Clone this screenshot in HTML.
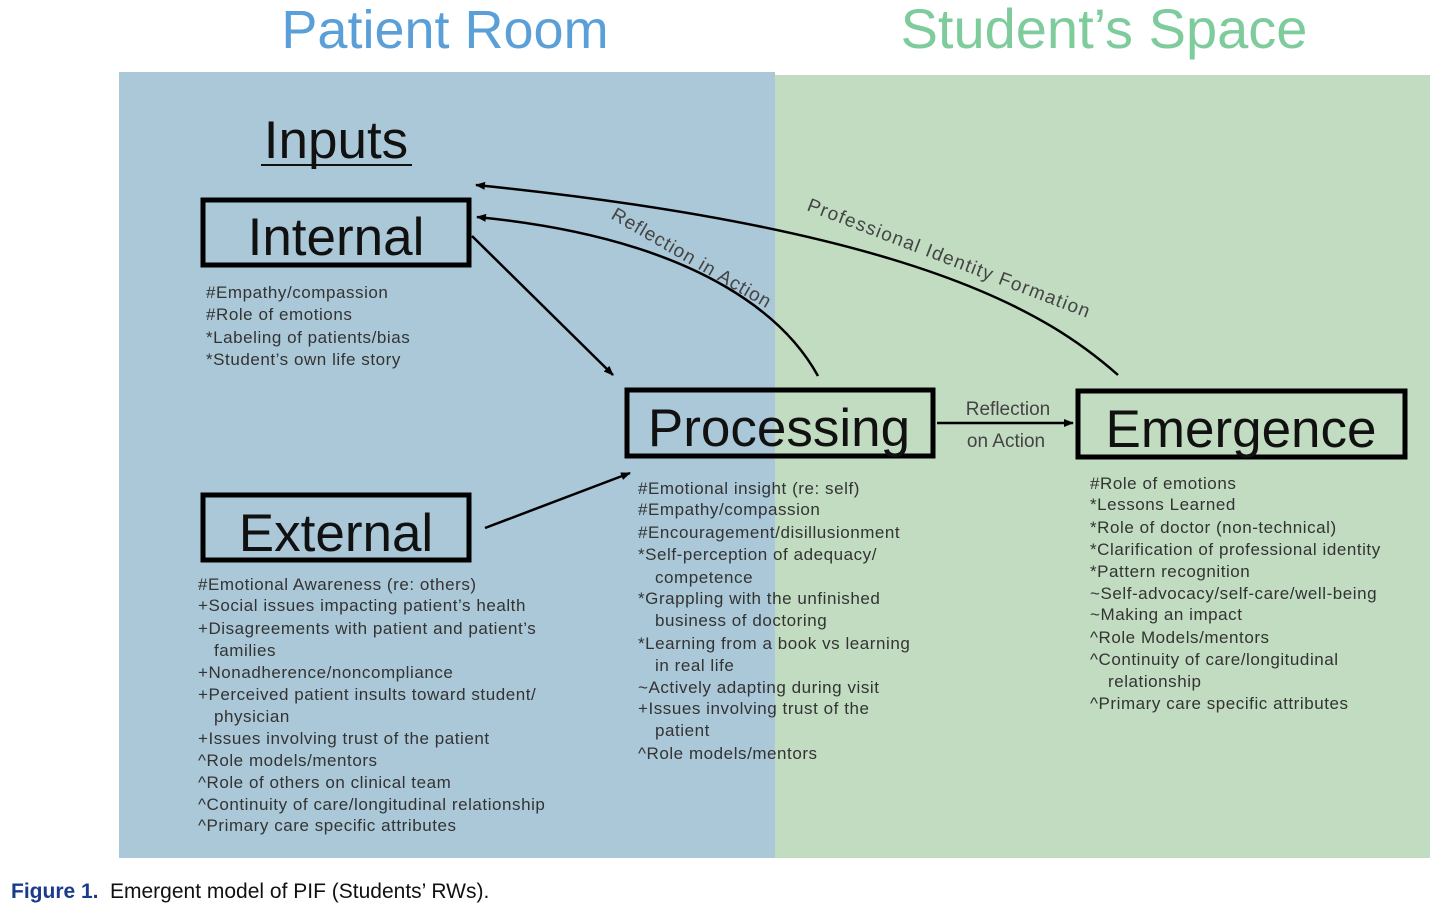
<!DOCTYPE html>
<html><head><meta charset="utf-8"><style>
html,body{margin:0;padding:0;background:#fff;}
svg{display:block;font-family:"Liberation Sans",sans-serif;}
.l{font-size:17px;fill:#333;letter-spacing:0.55px;}
</style></head><body>
<svg width="1446" height="914" viewBox="0 0 1446 914">
<defs><marker id="a" markerWidth="10" markerHeight="8" refX="9" refY="4" orient="auto" markerUnits="userSpaceOnUse"><path d="M0,0 L10,4 L0,8 z" fill="#000"/></marker></defs>
<rect x="119" y="72" width="656" height="786" fill="#abc8d8"/>
<rect x="775" y="75" width="655" height="783" fill="#c1dcc1"/>
<text x="445" y="48" font-size="54" fill="#5a9fd8" text-anchor="middle">Patient Room</text>
<text x="1104" y="48" font-size="56" fill="#7ecb9c" text-anchor="middle">Student’s Space</text>
<text x="336" y="158" font-size="53" fill="#111" text-anchor="middle">Inputs</text>
<line x1="261" y1="165" x2="412" y2="165" stroke="#111" stroke-width="2"/>
<g fill="none" stroke="#000" stroke-width="5">
<rect x="203" y="200" width="266" height="65"/>
<rect x="203" y="495" width="266" height="65"/>
<rect x="627" y="390" width="306" height="66"/>
<rect x="1078" y="391" width="327" height="66"/>
</g>
<g font-size="53" fill="#111" text-anchor="middle">
<text x="336" y="255">Internal</text>
<text x="336" y="551">External</text>
<text x="779" y="446">Processing</text>
<text x="1241" y="447">Emergence</text>
</g>
<g stroke="#000" stroke-width="2.5" fill="none">
<line x1="472" y1="236" x2="613" y2="375" marker-end="url(#a)"/>
<line x1="485" y1="528" x2="630" y2="473" marker-end="url(#a)"/>
<line x1="937" y1="423" x2="1073" y2="423" marker-end="url(#a)"/>
<path d="M818,376 C790,325 710,240 477,217" marker-end="url(#a)"/>
<path d="M1118,375 C1050,315 920,230 476,185" marker-end="url(#a)"/>
</g>
<text x="610" y="218" font-size="19" fill="#444" letter-spacing="1" transform="rotate(30 610 218)">Reflection in Action</text>
<text x="806" y="210" font-size="19" fill="#444" letter-spacing="1.3" transform="rotate(21 806 210)">Professional Identity Formation</text>
<text x="1008" y="415" font-size="19" fill="#444" text-anchor="middle">Reflection</text>
<text x="1006" y="447" font-size="19" fill="#444" text-anchor="middle">on Action</text>
<g class="l">
<text x="206" y="298">#Empathy/compassion</text>
<text x="206" y="320">#Role of emotions</text>
<text x="206" y="343">*Labeling of patients/bias</text>
<text x="206" y="365">*Student’s own life story</text>

<text x="198" y="590">#Emotional Awareness (re: others)</text>
<text x="198" y="611">+Social issues impacting patient’s health</text>
<text x="198" y="634">+Disagreements with patient and patient’s</text>
<text x="214" y="656">families</text>
<text x="198" y="678">+Nonadherence/noncompliance</text>
<text x="198" y="700">+Perceived patient insults toward student/</text>
<text x="214" y="722">physician</text>
<text x="198" y="744">+Issues involving trust of the patient</text>
<text x="198" y="766">^Role models/mentors</text>
<text x="198" y="788">^Role of others on clinical team</text>
<text x="198" y="810">^Continuity of care/longitudinal relationship</text>
<text x="198" y="831">^Primary care specific attributes</text>

<text x="638" y="494">#Emotional insight (re: self)</text>
<text x="638" y="515">#Empathy/compassion</text>
<text x="638" y="538">#Encouragement/disillusionment</text>
<text x="638" y="560">*Self-perception of adequacy/</text>
<text x="655" y="583">competence</text>
<text x="638" y="604">*Grappling with the unfinished</text>
<text x="655" y="626">business of doctoring</text>
<text x="638" y="649">*Learning from a book vs learning</text>
<text x="655" y="671">in real life</text>
<text x="638" y="693">~Actively adapting during visit</text>
<text x="638" y="714">+Issues involving trust of the</text>
<text x="655" y="736">patient</text>
<text x="638" y="759">^Role models/mentors</text>

<text x="1090" y="489">#Role of emotions</text>
<text x="1090" y="510">*Lessons Learned</text>
<text x="1090" y="533">*Role of doctor (non-technical)</text>
<text x="1090" y="555">*Clarification of professional identity</text>
<text x="1090" y="577">*Pattern recognition</text>
<text x="1090" y="599">~Self-advocacy/self-care/well-being</text>
<text x="1090" y="620">~Making an impact</text>
<text x="1090" y="643">^Role Models/mentors</text>
<text x="1090" y="665">^Continuity of care/longitudinal</text>
<text x="1108" y="687">relationship</text>
<text x="1090" y="709">^Primary care specific attributes</text>
</g>
<text x="11" y="898" font-size="21" fill="#1a3a8c" font-weight="bold">Figure 1.</text>
<text x="110" y="898" font-size="21" fill="#111">Emergent model of PIF (Students’ RWs).</text>
</svg>
</body></html>
